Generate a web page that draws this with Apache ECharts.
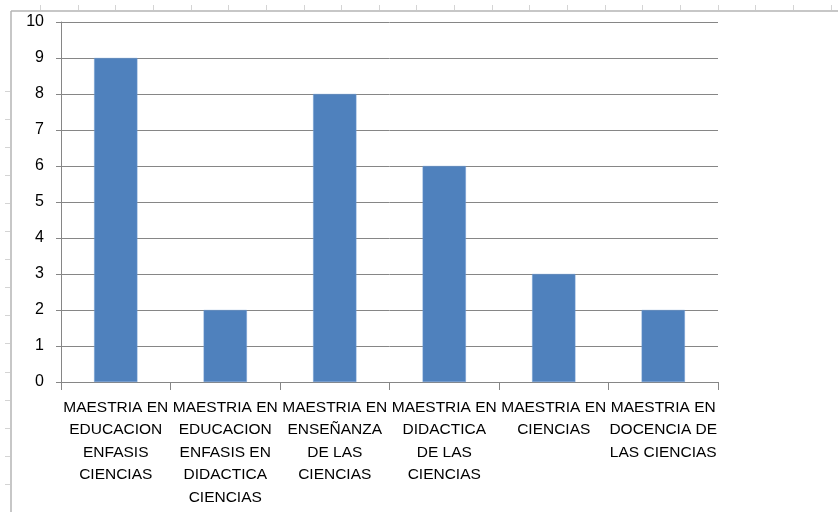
<!DOCTYPE html>
<html>
<head>
<meta charset="utf-8">
<script src="https://cdn.jsdelivr.net/npm/echarts@6/dist/echarts.min.js"></script>
<style>html,body{margin:0;padding:0;background:#fff}#c{width:838px;height:512px}</style>
</head>
<body>
<div id="c"></div>
<script>
const categories = [
  "MAESTRIA EN\nEDUCACION\nENFASIS\nCIENCIAS",
  "MAESTRIA EN\nEDUCACION\nENFASIS EN\nDIDACTICA\nCIENCIAS",
  "MAESTRIA EN\nENSEÑANZA\nDE LAS\nCIENCIAS",
  "MAESTRIA EN\nDIDACTICA\nDE LAS\nCIENCIAS",
  "MAESTRIA EN\nCIENCIAS",
  "MAESTRIA EN\nDOCENCIA DE\nLAS CIENCIAS"
];
const values = [9, 2, 8, 6, 3, 2];
const yTicks = [0, 1, 2, 3, 4, 5, 6, 7, 8, 9, 10];

const chart = echarts.init(document.getElementById('c'), null, {renderer: 'canvas'});

// spreadsheet frame decorations (non-data)
const deco = [];
deco.push({type:'line', shape:{x1:11, y1:11, x2:838, y2:11}, style:{stroke:'#b4b4b4', lineWidth:1.5}, silent:true});
deco.push({type:'line', shape:{x1:11, y1:11, x2:11, y2:512}, style:{stroke:'#b4b4b4', lineWidth:1.5}, silent:true});
for (let x = 40; x < 838; x += 37.65) {
  deco.push({type:'line', shape:{x1:Math.round(x)+0.5, y1:5, x2:Math.round(x)+0.5, y2:10}, style:{stroke:'#d4d4d4', lineWidth:1}, silent:true});
}
for (let y = 91; y < 512; y += 28.05) {
  deco.push({type:'line', shape:{x1:5, y1:Math.round(y)+0.5, x2:10, y2:Math.round(y)+0.5}, style:{stroke:'#d4d4d4', lineWidth:1}, silent:true});
}

chart.setOption({
  animation: false,
  backgroundColor: '#fff',
  grid: {left: 61, right: 120, top: 22, bottom: 130, containLabel: false},
  xAxis: {
    type: 'category',
    data: categories,
    axisLine: {show: true, lineStyle: {color: '#868686', width: 1}},
    axisTick: {show: true, length: 8, alignWithLabel: false, lineStyle: {color: '#868686'}},
    axisLabel: {interval: 0, margin: 14, color: '#000', fontFamily: 'Liberation Sans', fontSize: 15.5, lineHeight: 22.5, align: 'center'},
    splitLine: {show: false}
  },
  yAxis: {
    type: 'value',
    min: yTicks[0],
    max: yTicks[yTicks.length - 1],
    interval: 1,
    axisLine: {show: true, lineStyle: {color: '#868686', width: 1}},
    axisTick: {show: true, length: 5, lineStyle: {color: '#868686'}},
    axisLabel: {margin: 17, color: '#000', fontFamily: 'Liberation Sans', fontSize: 16},
    splitLine: {show: true, lineStyle: {color: '#868686', width: 1}}
  },
  series: [{
    type: 'bar',
    data: values,
    barWidth: '39.5%',
    itemStyle: {color: '#4F81BD', borderColor: '#6f9bd0', borderWidth: 0.5}
  }],
  graphic: deco
});
</script>
</body>
</html>
